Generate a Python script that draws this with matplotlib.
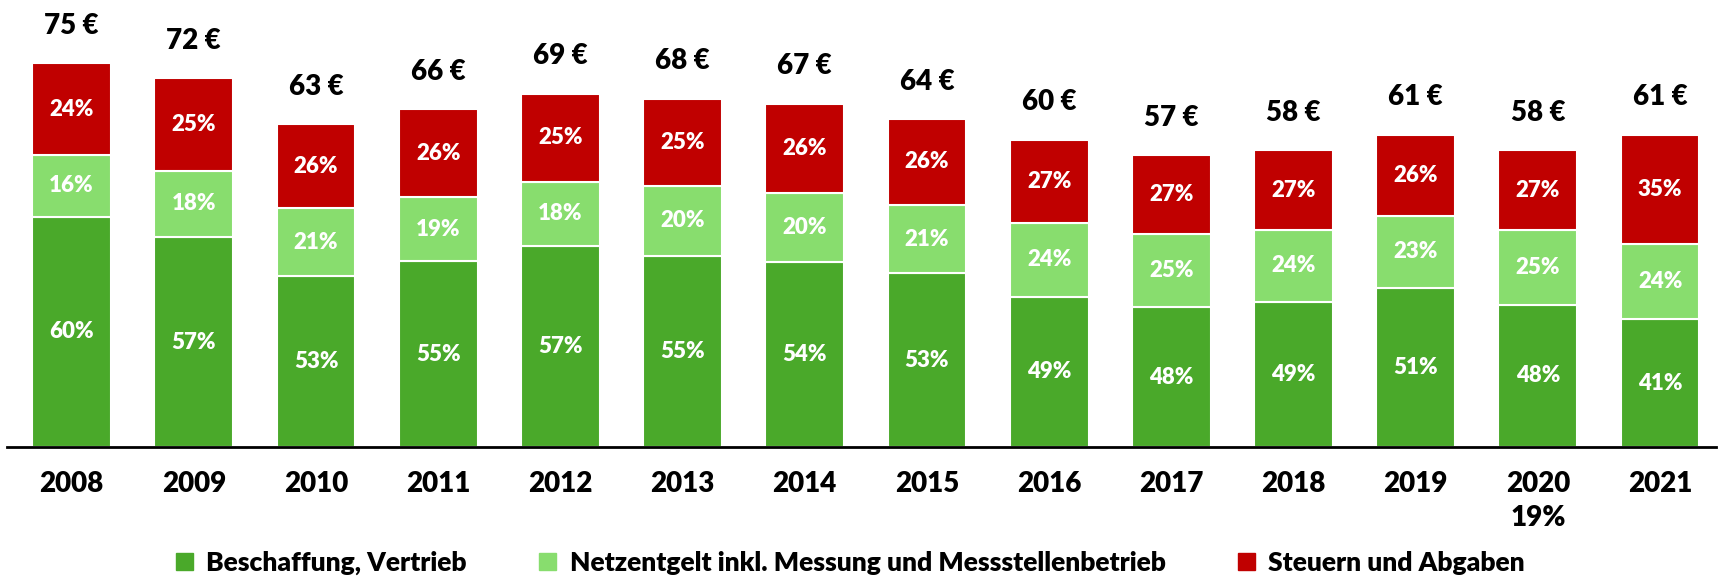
import matplotlib.pyplot as plt
from matplotlib.patches import Patch
import numpy as np

plt.rcParams['font.family'] = ['Lato', 'DejaVu Sans']
plt.rcParams['font.weight'] = 'heavy'

years = ['2008', '2009', '2010', '2011', '2012', '2013', '2014',
         '2015', '2016', '2017', '2018', '2019', '2020', '2021']
totals = [75, 72, 63, 66, 69, 68, 67, 64, 60, 57, 58, 61, 58, 61]
pct_beschaffung = [60, 57, 53, 55, 57, 55, 54, 53, 49, 48, 49, 51, 48, 41]
pct_netz = [16, 18, 21, 19, 18, 20, 20, 21, 24, 25, 24, 23, 25, 24]
pct_steuern = [24, 25, 26, 26, 25, 25, 26, 26, 27, 27, 27, 26, 27, 35]
labels = ['Beschaffung, Vertrieb',
          'Netzentgelt inkl. Messung und Messstellenbetrieb',
          'Steuern und Abgaben']
colors = ['#4aa92a', '#88dd6e', '#c00000']

x = np.arange(len(years))
tot = np.array(totals, dtype=float)
series = [np.array(pct_beschaffung), np.array(pct_netz), np.array(pct_steuern)]

fig = plt.figure(figsize=(17.18, 5.77), dpi=100)
ax = fig.add_axes([0.004, 0.225, 0.995, 0.775])

bottom = np.zeros(len(years))
for pct, col in zip(series, colors):
    h = tot * pct / 100
    ax.bar(x, h, bottom=bottom, width=0.645, color=col, edgecolor='white', linewidth=1.5)
    for xi, b, hi, p in zip(x, bottom, h, pct):
        ax.text(xi, b + hi / 2, f'{p}%', ha='center', va='center',
                color='white', fontsize=16, fontweight='heavy')
    bottom += h

for xi, t in zip(x, totals):
    ax.annotate(f'{t} €', (xi, t), xytext=(0, 27), textcoords='offset points',
                ha='center', va='center', fontsize=20, fontweight='heavy')

ax.set_xlim(-0.53, 13.46)
ax.set_ylim(0, 87.3)
ax.set_yticks([])
ax.set_xticks(x)
tick_labels = list(years)
tick_labels[12] = '2020\n19%'
ax.set_xticklabels(tick_labels, fontsize=20, fontweight='heavy')
ax.get_xticklabels()[12].set_linespacing(1.4)
ax.tick_params(axis='x', length=0, pad=17)
for s in ['top', 'left', 'right']:
    ax.spines[s].set_visible(False)
ax.spines['bottom'].set_linewidth(2)

handles = [Patch(color=c, label=l) for c, l in zip(colors, labels)]
fig.legend(handles=handles, loc='lower center', bbox_to_anchor=(0.495, -0.038), ncol=3,
           frameon=False, fontsize=19, handlelength=0.65, handleheight=0.65,
           handletextpad=0.5, columnspacing=2.75)

fig.savefig('out.png', dpi=100)
